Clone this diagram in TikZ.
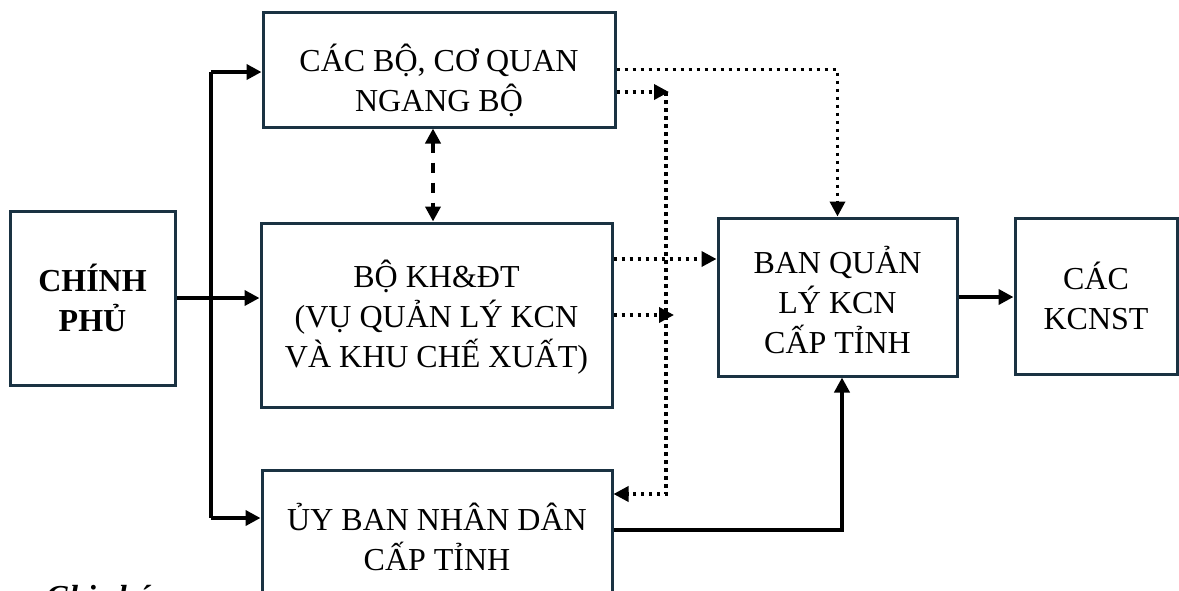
\documentclass[tikz,border=0pt]{standalone}
\usepackage{fontspec}
\setmainfont{Liberation Serif}
\usetikzlibrary{arrows.meta}
\definecolor{boxline}{HTML}{1A3242}
\begin{document}
\begin{tikzpicture}[x=1pt,y=-1pt,
  box/.style={draw=boxline,line width=3pt,fill=white,inner sep=0pt,align=center,
    font=\fontsize{32}{40}\selectfont},
  txt/.style={inner sep=0pt,align=center,font=\fontsize{32}{40}\selectfont},
  conn/.style={line width=4.5pt,draw=black},
  dotconn/.style={line width=3.5pt,draw=black,dash pattern=on 3.5pt off 4.5pt},
  dashconn/.style={line width=4pt,draw=black,dash pattern=on 10pt off 10pt},
  tip/.style={-{Triangle[length=15pt,width=15pt]}},
  twotip/.style={{Triangle[length=15pt,width=15pt]}-{Triangle[length=15pt,width=15pt]}}]
\useasboundingbox (0,0) rectangle (1179,590);
\clip (0,0) rectangle (1179,590);

% boxes
\node[box,minimum width=165pt,minimum height=174pt] (gov) at (92.5,298) {\bfseries CHÍNH\\\bfseries PHỦ};
\node[box,minimum width=352pt,minimum height=115pt] (bo) at (439,69.5) {};
\node[txt] (boText) at (439,80) {CÁC BỘ, CƠ QUAN\\NGANG BỘ};
\node[box,minimum width=351pt,minimum height=184pt] (kh) at (436.5,315) {};
\node[txt] (khText) at (436.5,317) {BỘ KH\&ĐT\\(VỤ QUẢN LÝ KCN\\VÀ KHU CHẾ XUẤT)};
\node[box,minimum width=350pt,minimum height=140pt] (ub) at (437,540) {};
\node[txt] (ubText) at (437,537) {ỦY BAN NHÂN DÂN\\CẤP TỈNH};
\node[box,minimum width=239pt,minimum height=158pt] (bq) at (837.5,297) {};
\node[txt] (bqText) at (837.5,300) {BAN QUẢN\\LÝ KCN\\CẤP TỈNH};
\node[box,minimum width=162pt,minimum height=156pt] (kc) at (1096,296) {CÁC\\KCNST};

% legend heading
\node[anchor=base west,inner sep=0pt,font=\fontsize{32}{40}\selectfont\bfseries\itshape] (note) at (46,607) {Ghi chú};

% helper points
\coordinate (trunkTop) at (211,72);
\coordinate (trunkBot) at (211,518);
\coordinate (dd) at (433,0);
\coordinate (busTop) at (669,92);
\coordinate (busBot) at (666,494);
\coordinate (busX) at (666,0);
\coordinate (khA) at (0,259);
\coordinate (khTip) at (674,0);
\coordinate (ubC) at (842,530);

% solid links from the government
\draw[conn] (trunkTop) -- (trunkBot);
\draw[conn,tip] (trunkTop) -- (trunkTop -| bo.west);
\draw[conn,tip] (trunkBot) -- (trunkBot -| ub.west);
\draw[conn,tip] (gov.east) -- (gov.east -| kh.west);

% two-way dashed link
\draw[dashconn,twotip] (bo.south -| dd) -- (kh.north -| dd);

% dotted links
\draw[dotconn,tip] (bo.east) -| (bq.north);
\draw[dotconn,tip] (bo.east |- busTop) -- (busTop);
\draw[dotconn,tip] (busTop -| busX) -- (busBot) -- (busBot -| ub.east);
\draw[dotconn,tip] (kh.east |- khA) -- (bq.west |- khA);
\draw[dotconn,tip] (kh.east) -- (kh.east -| khTip);

% solid links to the provincial board and the parks
\draw[conn,tip] (ub.east |- ubC) -- (ubC) -- (ubC |- bq.south);
\draw[conn,tip] (bq.east) -- (bq.east -| kc.west);
\end{tikzpicture}
\end{document}
